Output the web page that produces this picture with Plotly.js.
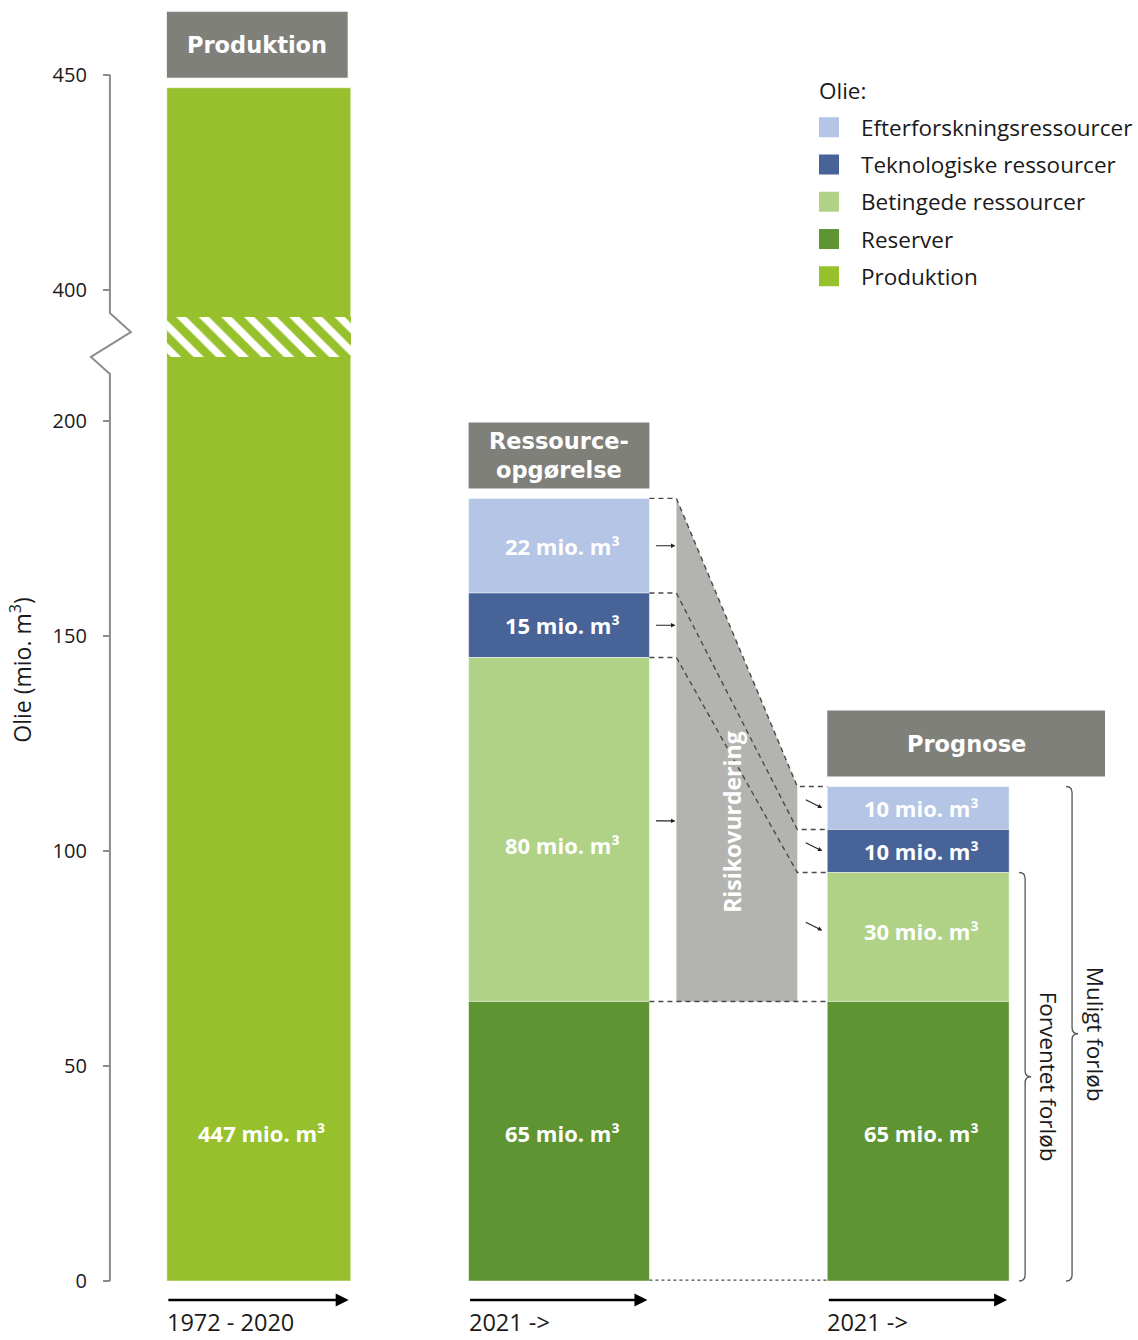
<!DOCTYPE html>
<html><head><meta charset="utf-8">
<script src="https://cdn.plot.ly/plotly-3.0.1.min.js"></script>
<style>html,body{margin:0;padding:0;background:#fff}</style>
</head><body><div id="chart" style="width:1138px;height:1340px"></div>
<script>
// ---------------- data ----------------
const columns = ['Produktion', 'Ressource-<br>opgørelse', 'Prognose'];
const periods = ['1972 - 2020', '2021 ->', '2021 ->'];
const seriesNames = ['Efterforskningsressourcer', 'Teknologiske ressourcer', 'Betingede ressourcer', 'Reserver', 'Produktion'];
const efterforskning = [0, 22, 10];
const teknologiske = [0, 15, 10];
const betingede = [0, 80, 30];
const reserver = [0, 65, 65];
const produktion = [447, 0, 0];
const yTicks = [0, 50, 100, 150, 200, 400, 450];
const yTitle = 'Olie (mio. m<sup>3</sup>)';
const legendTitle = 'Olie:';
const riskLabel = 'Risikovurdering';
const expectedLabel = 'Forventet forløb';
const possibleLabel = 'Muligt forløb';

// ---------------- styles / layout constants ----------------
const colors = {
  'Efterforskningsressourcer': '#b5c5e5',
  'Teknologiske ressourcer': '#476398',
  'Betingede ressourcer': '#b0d287',
  'Reserver': '#5e9432',
  'Produktion': '#96c12c'
};
const headerGray = '#80807a';
const riskGray = '#b3b4af';
const FONT = 'Open Sans, Noto Sans, sans-serif';
const HFONT = 'DejaVu Sans, Verdana, sans-serif';
const TXT = '#1a1a1a';
const PX = 4.3;                 // pixels per unit
const W = 1138, H = 1340, ZERO_PX = 1281;
const colLeft = [167, 469, 828];
const colWidth = [184, 181, 182];
const headerWidth = [181, 181, 278];
const riskX = [677, 798];
const axisX = 110;
// broken axis: values above BRK_HI are shifted down to sit just above BRK_LO + gap
const BRK_LO = 200, BRK_HI = 400, BRK_GAP = 30.5;
const yv = v => v <= BRK_LO ? v : v - BRK_HI + BRK_LO + BRK_GAP;
const yMin = -(H - ZERO_PX) / PX, yMax = ZERO_PX / PX;
const px2u = p => p / PX;
const pxY = p => (ZERO_PX - p) / PX;   // pixel row -> axis units (for decorations only)

const colCenter = colLeft.map((l, i) => l + colWidth[i] / 2);

// stacking order from bottom to top
const stack = [
  ['Produktion', produktion],
  ['Reserver', reserver],
  ['Betingede ressourcer', betingede],
  ['Teknologiske ressourcer', teknologiske],
  ['Efterforskningsressourcer', efterforskning]
];
const bases = {};
const cum = [0, 0, 0];
stack.forEach(([name, vals]) => {
  bases[name] = cum.slice();
  vals.forEach((v, i) => cum[i] += v);
});
const totals = cum.slice();

const traces = [];
const annotations = [];
seriesNames.forEach(name => {
  const vals = stack.find(s => s[0] === name)[1];
  const b = bases[name];
  traces.push({
    type: 'bar', name: name, legendgroup: name, showlegend: false,
    x: colCenter, width: colWidth,
    base: vals.map((v, i) => v > 0 ? yv(b[i]) : null),
    y: vals.map((v, i) => v > 0 ? yv(b[i] + v) - yv(b[i]) : null),
    marker: {color: colors[name], line: {width: 1, color: 'rgba(255,255,255,0.45)'}},
    hoverinfo: 'skip'
  });
  vals.forEach((v, i) => {
    if (v <= 0) return;
    let mid = (yv(b[i]) + yv(b[i] + v)) / 2;
    if (name === 'Produktion') mid = (reserver[1] / 2) + 2;
    if (name === 'Reserver') mid += 2;
    if (name === 'Betingede ressourcer' && i === 1) mid -= 3.5;
    if (name === 'Betingede ressourcer' && i === 2) mid += 1.5;
    annotations.push({
      x: colCenter[i] + 3, y: mid, xref: 'x', yref: 'y', showarrow: false,
      text: '<b>' + v + ' mio. m³</b>',
      font: {family: FONT, size: 22, color: '#ffffff'}
    });
  });
});
// legend entries (larger square swatches)
seriesNames.forEach(name => {
  traces.push({
    type: 'scatter', mode: 'markers', name: name, legendgroup: name, showlegend: true,
    x: [null], y: [null], hoverinfo: 'skip',
    marker: {symbol: 'square', size: 16, color: colors[name], line: {width: 4, color: colors[name]}}
  });
});

// hatched band marking the axis break on the production bar
traces.push({
  type: 'bar', x: [colCenter[0]], width: [colWidth[0]],
  base: [pxY(357)], y: [px2u(40)], showlegend: false, hoverinfo: 'skip',
  marker: {color: colors['Produktion'], line: {width: 0},
    pattern: {shape: '\\', fgcolor: '#ffffff', bgcolor: colors['Produktion'], size: 16, solidity: 0.45}}
});

const shapes = [];
// axis line with zigzag break
shapes.push({
  type: 'path', xref: 'x', yref: 'y', layer: 'above',
  path: `M${axisX},${yv(450)} L${axisX},${pxY(313)} L${axisX + 21},${pxY(332)} L${axisX - 19},${pxY(357)} L${axisX},${pxY(374)} L${axisX},0`,
  line: {color: '#8c8c8c', width: 2}
});

// header boxes
columns.forEach((c, i) => {
  const y0 = yv(totals[i]) + px2u(10), y1 = y0 + px2u(66);
  shapes.push({type: 'rect', xref: 'x', yref: 'y', x0: colLeft[i], x1: colLeft[i] + headerWidth[i], y0: y0, y1: y1,
    fillcolor: headerGray, line: {width: 0}, layer: 'below'});
  annotations.push({x: colLeft[i] + headerWidth[i] / 2, y: (y0 + y1) / 2, xref: 'x', yref: 'y', showarrow: false,
    text: '<b>' + c + '</b>', font: {family: HFONT, size: 22.5, color: '#ffffff'}});
});

// risk assessment polygon
const r1 = colLeft[1] + colWidth[1], l2 = colLeft[2];
shapes.push({
  type: 'path', xref: 'x', yref: 'y', layer: 'below',
  path: `M${riskX[0]},${totals[1]} L${riskX[1]},${totals[2]} L${riskX[1]},${reserver[2]} L${riskX[0]},${reserver[1]} Z`,
  fillcolor: riskGray, line: {width: 0}
});
// dashed connectors for the three risked classes
['Efterforskningsressourcer', 'Teknologiske ressourcer', 'Betingede ressourcer'].forEach(name => {
  const vals = stack.find(s => s[0] === name)[1];
  const t1 = bases[name][1] + vals[1], t2 = bases[name][2] + vals[2];
  shapes.push({type: 'path', xref: 'x', yref: 'y', layer: 'above',
    path: `M${r1},${t1} L${riskX[0]},${t1} L${riskX[1]},${t2} L${l2},${t2}`,
    line: {color: '#4a4a4a', width: 1.4, dash: '5px,4px'}});
});
shapes.push({type: 'line', xref: 'x', yref: 'y', x0: r1, x1: l2, y0: reserver[1], y1: reserver[2], layer: 'above',
  line: {color: '#4a4a4a', width: 1.4, dash: '5px,4px'}});
shapes.push({type: 'line', xref: 'x', yref: 'y', x0: r1, x1: l2, y0: 0.2, y1: 0.2, layer: 'above',
  line: {color: '#4a4a4a', width: 1.4, dash: '3px,3px'}});

// small arrows into and out of the risk assessment
['Efterforskningsressourcer', 'Teknologiske ressourcer', 'Betingede ressourcer'].forEach(name => {
  const vals = stack.find(s => s[0] === name)[1];
  const m1 = bases[name][1] + vals[1] / 2, m2 = bases[name][2] + vals[2] / 2;
  annotations.push({x: riskX[0] - 1, y: m1 + (name === 'Betingede ressourcer' ? 2 : 0), xref: 'x', yref: 'y', ax: -21, ay: 0,
    showarrow: true, arrowhead: 2, arrowsize: 0.8, arrowwidth: 1.1, arrowcolor: '#222', text: ''});
  annotations.push({x: l2 - 5, y: m2 + (name === 'Betingede ressourcer' ? 1.5 : 0), xref: 'x', yref: 'y', ax: -18, ay: -9,
    showarrow: true, arrowhead: 2, arrowsize: 0.8, arrowwidth: 1.1, arrowcolor: '#222', text: ''});
});
annotations.push({x: (riskX[0] + riskX[1]) / 2 - 5, y: pxY(822), xref: 'x', yref: 'y', showarrow: false, textangle: -90,
  text: '<b>' + riskLabel + '</b>', font: {family: FONT, size: 23, color: '#ffffff'}});

// braces
function brace(x0, yTop, yBot) {
  const d = px2u(6), yMid = (yTop + yBot) / 2;
  return `M${x0 - 6},${yTop} Q${x0},${yTop} ${x0},${yTop - d} L${x0},${yMid + d} Q${x0},${yMid} ${x0 + 6},${yMid} Q${x0},${yMid} ${x0},${yMid - d} L${x0},${yBot + d} Q${x0},${yBot} ${x0 - 6},${yBot}`;
}
const expectedTop = reserver[2] + betingede[2];
shapes.push({type: 'path', xref: 'x', yref: 'y', path: brace(1026, expectedTop, 0), line: {color: '#555', width: 1.3}});
shapes.push({type: 'path', xref: 'x', yref: 'y', path: brace(1073, totals[2], 0), line: {color: '#555', width: 1.3}});
annotations.push({x: 1049, y: expectedTop / 2, xref: 'x', yref: 'y', showarrow: false, textangle: 90,
  text: expectedLabel, font: {family: FONT, size: 22.5, color: TXT}});
annotations.push({x: 1096, y: totals[2] / 2, xref: 'x', yref: 'y', showarrow: false, textangle: 90,
  text: possibleLabel, font: {family: FONT, size: 22.5, color: TXT}});

// time arrows and period labels
periods.forEach((p, i) => {
  const yA = pxY(1300);
  annotations.push({x: colLeft[i] + colWidth[i] - 2, y: yA, ax: colLeft[i], ay: yA, axref: 'x', ayref: 'y', xref: 'x', yref: 'y',
    showarrow: true, arrowhead: 2, arrowsize: 1, arrowwidth: 2.6, arrowcolor: '#000', text: ''});
  annotations.push({x: colLeft[i] - 2, y: pxY(1339.5), xref: 'x', yref: 'y', xanchor: 'left', yanchor: 'bottom', showarrow: false,
    text: p, font: {family: FONT, size: 23.5, color: TXT}});
});

// legend heading
annotations.push({x: 818, y: pxY(90), xref: 'x', yref: 'y', xanchor: 'left', showarrow: false,
  text: legendTitle, font: {family: FONT, size: 22.5, color: TXT}});

const layout = {
  width: W, height: H,
  margin: {l: 0, r: 0, t: 0, b: 0, pad: 0},
  paper_bgcolor: '#fff', plot_bgcolor: '#fff',
  barmode: 'overlay', bargap: 0,
  showlegend: true,
  legend: {x: 798 / W, y: 1 - 106 / H, xanchor: 'left', yanchor: 'top', traceorder: 'grouped', tracegroupgap: 5,
    itemwidth: 54, bgcolor: 'rgba(0,0,0,0)', font: {family: FONT, size: 22.5, color: TXT}},
  xaxis: {range: [0, W], visible: false, fixedrange: true},
  yaxis: {range: [yMin, yMax], anchor: 'free', position: axisX / W, showline: false, showgrid: false, zeroline: false,
    ticks: 'outside', ticklen: 7, tickwidth: 1.5, tickcolor: '#8c8c8c',
    tickvals: yTicks.map(yv), ticktext: yTicks.map(String),
    tickfont: {family: FONT, size: 20, color: TXT}, ticklabelstandoff: 12,
    title: {text: yTitle, font: {family: FONT, size: 23, color: TXT}, standoff: 13},
    automargin: false, fixedrange: true},
  shapes: shapes,
  annotations: annotations
};

Plotly.newPlot('chart', traces, layout, {displayModeBar: false, staticPlot: true});
</script></body></html>
